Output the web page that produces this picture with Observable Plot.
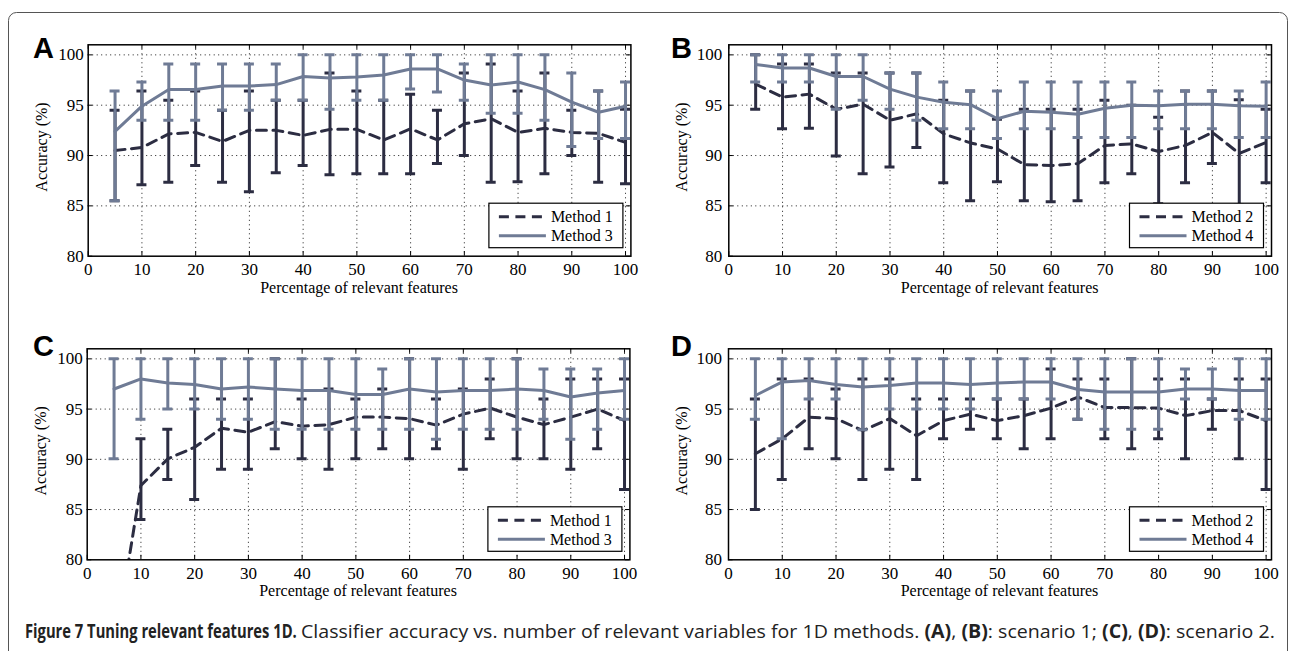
<!DOCTYPE html>
<html><head><meta charset="utf-8">
<script src="https://cdn.jsdelivr.net/npm/d3@7"></script>
<script src="https://cdn.jsdelivr.net/npm/@observablehq/plot@0.6"></script>
<style>
body{margin:0;background:#fff;}
#root{position:relative;width:1290px;height:651px;overflow:hidden;background:#fff;}
.panel{position:absolute;}
#overlay{position:absolute;left:0;top:0;pointer-events:none;}
</style></head><body><div id="root"></div>
<script>
// ---------- data ----------
const xValues = [5,10,15,20,25,30,35,40,45,50,55,60,65,70,75,80,85,90,95,100];
const xTicks = [0,10,20,30,40,50,60,70,80,90,100];
const yTicks = [80,85,90,95,100];

// Panel A (scenario 1): Method 1 / Method 3
const aM1Mean = [90.5,90.8,92.15,92.3,91.4,92.5,92.5,92.0,92.6,92.6,91.55,92.65,91.55,93.15,93.65,92.3,92.7,92.3,92.2,91.3];
const aM1Hi   = [94.5,96.4,95.5,96.4,94.5,96.4,95.5,95.5,98.2,96.4,95.5,96.1,94.5,98.2,99.1,96.4,98.2,94.5,96.4,94.6];
const aM1Lo   = [85.5,87.1,87.35,89.0,87.35,86.4,88.3,89.0,88.1,88.2,88.2,88.2,89.2,90.0,87.35,87.4,88.2,90.0,87.35,87.2];
const aM3Mean = [92.4,94.9,96.55,96.55,96.9,96.9,97.05,97.85,97.7,97.8,98.0,98.6,98.6,97.5,97.0,97.3,96.55,95.3,94.3,94.9];
const aM3Hi   = [96.4,97.3,99.1,99.1,99.1,99.1,99.1,100,100,100,100,100,100,99.1,100,100,100,98.2,96.4,97.3];
const aM3Lo   = [85.5,93.5,93.5,93.5,94.5,94.5,95.5,95.5,94.6,95.5,95.5,96.6,96.3,95.5,94.2,94.2,93.5,90.9,91.7,91.7];

// Panel B (scenario 1): Method 2 / Method 4
const bM2Mean = [97.1,95.8,96.1,94.6,95.1,93.5,94.15,92.15,91.25,90.65,89.1,89.0,89.2,91.0,91.15,90.4,91.0,92.3,90.2,91.3];
const bM2Hi   = [100,99.1,99.1,98.2,98.2,98.2,98.2,95.5,96.4,93.6,94.6,94.6,94.6,95.5,95.0,93.8,96.4,96.4,95.55,94.6];
const bM2Lo   = [94.6,92.65,92.7,89.95,88.2,88.85,90.8,87.3,85.5,87.4,85.5,85.4,85.5,87.3,88.2,85.2,87.3,89.2,85.1,87.3];
const bM4Mean = [99.05,98.7,98.7,97.85,97.85,96.6,95.8,95.3,95.05,93.65,94.4,94.3,94.1,94.7,95.0,94.95,95.1,95.1,94.95,94.9];
const bM4Hi   = [100,100,100,100,100,98.2,98.2,97.3,96.4,96.4,97.3,97.3,97.3,97.3,97.3,96.4,96.4,96.4,96.4,97.3];
const bM4Lo   = [97.3,97.3,97.3,94.6,95.5,94.6,93.5,92.65,92.65,91.7,92.65,92.65,91.8,91.8,91.8,92.65,92.65,92.65,91.8,91.8];

// Panel C (scenario 2): Method 1 / Method 3
const cM1Mean = [71,87.4,90.05,91.2,93.1,92.7,93.75,93.3,93.45,94.2,94.2,94.05,93.4,94.5,95.1,94.2,93.45,94.2,95.0,93.85];
const cM1Hi   = [76,92.05,93.0,96.0,96.0,96.0,100,96.0,97.0,96.0,97.0,100,96.0,97.0,98.0,100,96.0,98.0,98.0,98.0];
const cM1Lo   = [66,84.0,88.0,86.0,89.0,89.0,91.05,90.05,89.0,90.05,91.05,90.05,91.05,89.0,92.05,90.05,90.05,89.0,91.05,87.0];
const cM3Mean = [97.0,98.0,97.6,97.45,97.0,97.2,97.0,96.85,96.85,96.45,96.45,97.0,96.7,96.85,96.85,97.0,96.85,96.2,96.6,96.85];
const cM3Hi   = [100,100,100,100,100,100,100,100,100,100,99.0,100,100,100,100,100,99.0,99.0,99.0,100];
const cM3Lo   = [90.05,94.0,95.0,95.0,94.0,94.0,93.0,93.0,93.0,93.0,93.0,93.0,92.0,93.0,93.0,93.0,94.0,92.0,93.0,94.0];

// Panel D (scenario 2): Method 2 / Method 4
const dM2Mean = [90.55,92.05,94.2,94.05,92.85,94.05,92.35,93.85,94.5,93.85,94.35,95.1,96.2,95.15,95.15,95.1,94.35,94.85,94.85,93.85];
const dM2Hi   = [96.0,98.0,98.0,97.0,98.0,98.0,96.0,96.0,96.0,96.0,96.0,99.0,98.0,98.0,100,98.0,98.0,96.0,98.0,98.0];
const dM2Lo   = [85.0,88.0,91.05,90.05,88.0,89.0,88.0,92.05,93.0,92.05,91.05,92.05,94.0,92.05,91.05,92.05,90.05,93.0,90.05,87.0];
const dM4Mean = [96.35,97.7,97.85,97.45,97.2,97.35,97.6,97.6,97.45,97.6,97.7,97.7,96.95,96.7,96.7,96.7,97.0,97.0,96.85,96.85];
const dM4Hi   = [100,100,100,100,100,100,100,100,100,100,100,100,100,100,100,100,99.0,99.0,100,100];
const dM4Lo   = [94.0,92.05,96.0,96.0,92.95,95.0,95.0,95.0,95.0,96.0,96.0,96.0,94.0,93.0,93.0,93.0,96.0,96.0,94.0,94.0];

const xLabel = "Percentage of relevant features";
const yLabel = "Accuracy (%)";
const captionTitle = "Figure 7 Tuning relevant features 1D.";

// ---------- style ----------
const DARK = "#2c2d42";
const LIGHT = "#6f7b95";
const SERIF = "'Liberation Serif', 'DejaVu Serif', serif";

const W = 645, H = 304;
const panels = [
  {letter:"A", left:0,   top:0,   fL:87.7,  fR:630.4, fT:44.3,  fB:255.7, lx:33,    ly:58,  pad:4.5,
   dark:{name:"Method 1", mean:aM1Mean, lo:aM1Lo, hi:aM1Hi}, light:{name:"Method 3", mean:aM3Mean, lo:aM3Lo, hi:aM3Hi}},
  {letter:"B", left:645, top:0,   fL:728.3, fR:1271,  fT:44.3,  fB:255.7, lx:671,   ly:58,  pad:6.5,
   dark:{name:"Method 2", mean:bM2Mean, lo:bM2Lo, hi:bM2Hi}, light:{name:"Method 4", mean:bM4Mean, lo:bM4Lo, hi:bM4Hi}},
  {letter:"C", left:0,   top:304, fL:86.7,  fR:629.4, fT:348.3, fB:559.3, lx:33,    ly:356, pad:4.5,
   dark:{name:"Method 1", mean:cM1Mean, lo:cM1Lo, hi:cM1Hi}, light:{name:"Method 3", mean:cM3Mean, lo:cM3Lo, hi:cM3Hi}},
  {letter:"D", left:645, top:304, fL:728,   fR:1271,  fT:348.3, fB:559.3, lx:671,   ly:356, pad:6.5,
   dark:{name:"Method 2", mean:dM2Mean, lo:dM2Lo, hi:dM2Hi}, light:{name:"Method 4", mean:dM4Mean, lo:dM4Lo, hi:dM4Hi}}
];

const root = document.getElementById("root");

function rows(s) {
  return xValues.map((x, i) => ({x, mean: s.mean[i], lo: s.lo[i], hi: s.hi[i]}));
}

function seriesMarks(s, color, dashed) {
  const data = rows(s);
  return [
    Plot.ruleX(data, {x: "x", y1: "lo", y2: "hi", stroke: color, strokeWidth: 3, clip: true}),
    Plot.ruleY(data, {y: "lo", x1: "x", x2: "x", insetLeft: -5, insetRight: -5, stroke: color, strokeWidth: 3, clip: true}),
    Plot.ruleY(data, {y: "hi", x1: "x", x2: "x", insetLeft: -5, insetRight: -5, stroke: color, strokeWidth: 3, clip: true}),
    Plot.line(data, {x: "x", y: "mean", stroke: color, strokeWidth: 3, strokeDasharray: dashed ? "10,6.5" : null, clip: true})
  ];
}

for (const p of panels) {
  const chart = Plot.plot({
    width: W, height: H,
    marginLeft: p.fL - p.left, marginRight: p.left + W - p.fR,
    marginTop: p.fT - p.top, marginBottom: p.top + H - p.fB,
    style: {fontFamily: SERIF, fontSize: "17px", color: "black", background: "transparent", overflow: "visible"},
    x: {domain: [0, 101], ticks: xTicks, tickSize: 0, tickPadding: 7.2, tickFormat: d => String(d), label: null},
    y: {domain: [80, 101], ticks: yTicks, tickSize: 0, tickPadding: p.pad, tickFormat: d => String(d), label: null},
    marks: [
      Plot.ruleX(xTicks.filter(d => d > 0), {x: d => d, stroke: "#000", strokeWidth: 0.9, strokeDasharray: "1,3.5"}),
      Plot.ruleY(yTicks.filter(d => d > 80), {y: d => d, stroke: "#000", strokeWidth: 0.9, strokeDasharray: "1,3.5"}),
      // inward tick marks (bottom/top, left/right)
      Plot.ruleX(xTicks, {x: d => d, y1: 80, y2: 80.45, stroke: "#000", strokeWidth: 1}),
      Plot.ruleX(xTicks, {x: d => d, y1: 100.55, y2: 101, stroke: "#000", strokeWidth: 1}),
      Plot.ruleY(yTicks, {y: d => d, x1: 0, x2: 0.85, stroke: "#000", strokeWidth: 1}),
      Plot.ruleY(yTicks, {y: d => d, x1: 100.15, x2: 101, stroke: "#000", strokeWidth: 1}),
      ...seriesMarks(p.dark, DARK, true),
      ...seriesMarks(p.light, LIGHT, false),
      Plot.frame({stroke: "#000", strokeWidth: 1.5})
    ]
  });
  chart.classList.add("panel");
  chart.style.left = p.left + "px";
  chart.style.top = p.top + "px";
  root.appendChild(chart);
}

// ---------- overlay: border, letters, labels, legends, caption ----------
const svg = d3.select(root).append("svg").attr("id", "overlay")
  .attr("width", 1290).attr("height", 651);

svg.append("rect").attr("x", 8.5).attr("y", 12.5).attr("width", 1279).attr("height", 700)
  .attr("rx", 8).attr("fill", "none").attr("stroke", "#555").attr("stroke-width", 1);

for (const p of panels) {
  svg.append("text").attr("x", p.lx).attr("y", p.ly)
    .attr("font-family", "'Liberation Sans', Arial, sans-serif").attr("font-weight", "bold")
    .attr("font-size", 29).attr("fill", "#000").text(p.letter);

  const cy = (p.fT + p.fB) / 2 - 3;
  svg.append("text").attr("transform", `translate(${p.fL - 41},${cy}) rotate(-90)`)
    .attr("text-anchor", "middle").attr("font-family", SERIF).attr("font-size", 16).attr("fill", "#000")
    .text(yLabel);

  svg.append("text").attr("x", (p.fL + p.fR) / 2).attr("y", p.fB + 37)
    .attr("text-anchor", "middle").attr("font-family", SERIF).attr("font-size", 16).attr("fill", "#000")
    .text(xLabel);

  // legend
  const bw = 134, bh = 44.5;
  const bx = p.fR - 7.5 - bw, by = p.fB - 8 - bh;
  const g = svg.append("g");
  g.append("rect").attr("x", bx).attr("y", by).attr("width", bw).attr("height", bh)
    .attr("fill", "#fff").attr("stroke", "#000").attr("stroke-width", 1.2);
  const items = [{s: p.dark, c: DARK, dash: "10,6.5", dy: 13.5}, {s: p.light, c: LIGHT, dash: null, dy: 32.5}];
  for (const it of items) {
    g.append("line").attr("x1", bx + 10).attr("x2", bx + 57).attr("y1", by + it.dy).attr("y2", by + it.dy)
      .attr("stroke", it.c).attr("stroke-width", 3).attr("stroke-dasharray", it.dash);
    g.append("text").attr("x", bx + 62).attr("y", by + it.dy + 5.5)
      .attr("font-family", SERIF).attr("font-size", 16).attr("fill", "#000").text(it.s.name);
  }
}

// caption: condensed bold title, then the rest; each squeezed horizontally to its span
const CAPF = "'Open Sans', 'Noto Sans', sans-serif";
function fit(sel, x, y, target) {
  const w = sel.node().getComputedTextLength();
  sel.attr("transform", `translate(${x},${y}) scale(${(target / w).toFixed(4)},1)`);
}
const t1 = svg.append("text").attr("x", 0).attr("y", 0)
  .attr("font-family", CAPF).attr("font-size", 19).attr("font-weight", "bold").attr("fill", "#222")
  .text(captionTitle);
fit(t1, 25, 638, 272);
const cap = svg.append("text").attr("x", 0).attr("y", 0)
  .attr("font-family", CAPF).attr("font-size", 19).attr("fill", "#222");
const parts = [
  ["Classifier accuracy vs. number of relevant variables for 1D methods. ", false],
  ["(A)", true], [", ", false], ["(B)", true], [": scenario 1; ", false],
  ["(C)", true], [", ", false], ["(D)", true], [": scenario 2.", false]
];
for (const [t, b] of parts) {
  const ts = cap.append("tspan").text(t);
  if (b) ts.attr("font-weight", "bold");
}
fit(cap, 301, 638, 974);
</script></body></html>
